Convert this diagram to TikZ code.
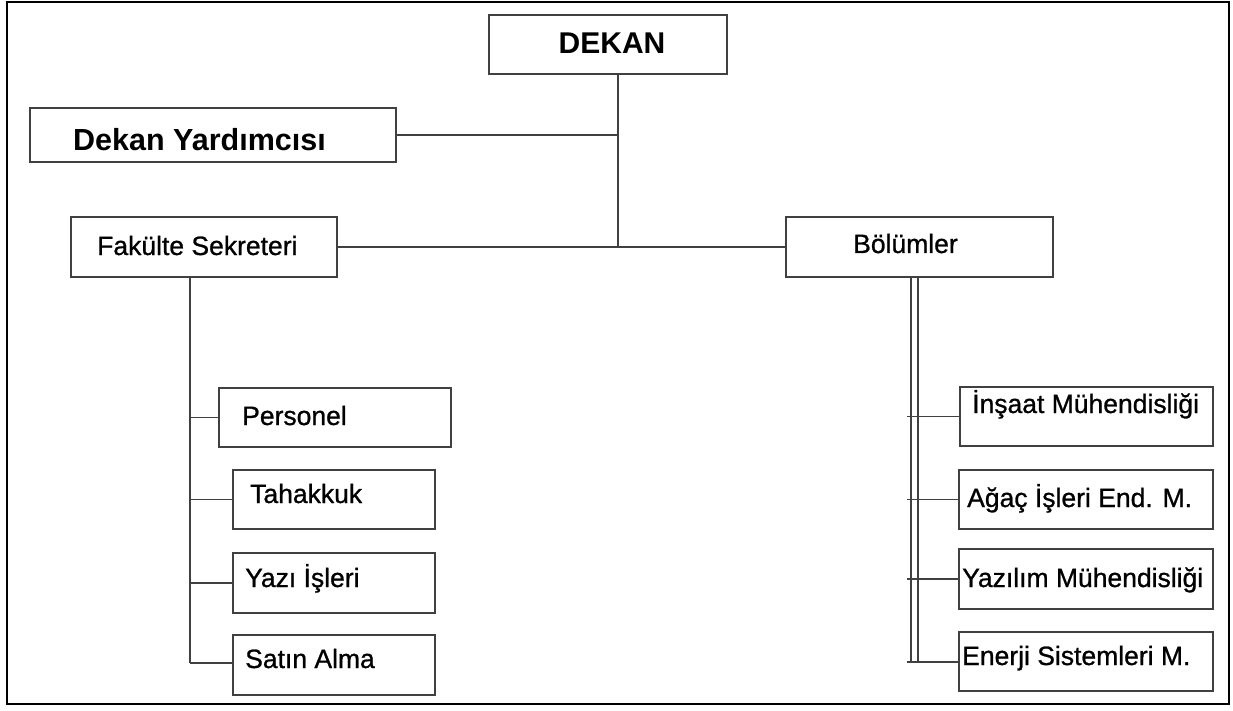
\documentclass[tikz,border=0pt]{standalone}
\usepackage{fontspec}
\setmainfont{Liberation Sans}
\newfontfamily\heavyfont[FakeBold=0.9]{Liberation Sans}
\begin{document}
\begin{tikzpicture}[x=1pt,y=-1pt,
  box/.style={draw=black!75,line width=1.8pt,inner sep=0pt,outer sep=0pt},
  txt/.style={anchor=base west,inner sep=0pt,font=\heavyfont\fontsize{26.5}{30}\selectfont},
  bigtxt/.style={anchor=base,inner sep=0pt,font=\fontsize{30}{34}\selectfont\bfseries},
  link/.style={draw=black!75,line width=1.5pt}]
\useasboundingbox (0,0) rectangle (1233,711);
\draw[line width=2.6pt] (7,2) rectangle (1229,704);
% boxes
\node[box,minimum width=238pt,minimum height=59pt] (dekan) at (608,44.5) {};
\node[box,minimum width=366pt,minimum height=54pt] (dy) at (213,135) {};
\node[box,minimum width=266pt,minimum height=60pt] (fs) at (204,247) {};
\node[box,minimum width=267pt,minimum height=60pt] (bol) at (919.5,247) {};
\node[box,minimum width=232pt,minimum height=59pt] (per) at (335,417.5) {};
\node[box,minimum width=202pt,minimum height=59pt] (tah) at (334,499.5) {};
\node[box,minimum width=202pt,minimum height=60pt] (yaz) at (334,583) {};
\node[box,minimum width=202pt,minimum height=60pt] (sat) at (334,665) {};
\node[box,minimum width=253pt,minimum height=59pt] (ins) at (1086.5,416.5) {};
\node[box,minimum width=254pt,minimum height=59pt] (aga) at (1086,499.5) {};
\node[box,minimum width=254pt,minimum height=60pt] (yzm) at (1086,579) {};
\node[box,minimum width=254pt,minimum height=59pt] (ene) at (1086,661.5) {};
% texts
\node[bigtxt] (tdekan) at (612,54) {DEKAN};
\node[anchor=base west,inner sep=0pt,font=\fontsize{30.5}{34}\selectfont\bfseries] (tdy) at (73,151) {Dekan Yardımcısı};
\node[txt] (tfs) at (97,255) {Fakülte Sekreteri};
\node[txt] (tbol) at (853,253) {Bölümler};
\node[txt] (tper) at (242,425) {Personel};
\node[txt] (ttah) at (250,503) {Tahakkuk};
\node[txt] (tyaz) at (245,587) {Yazı İşleri};
\node[txt] (tsat) at (245,668) {Satın Alma};
\node[txt] (tins) at (972,413) {İnşaat Mühendisliği};
\node[txt] (taga) at (967,507) {Ağaç İşleri End. M.};
\node[txt] (tyzm) at (962,587) {Yazılım Mühendisliği};
\node[txt] (tene) at (962,665) {Enerji Sistemleri M.};
% junctions
\coordinate (j1) at (618,247);
\coordinate (lt) at (190,663);
\coordinate (ra) at (911,662);
\coordinate (rb) at (918,662);
\coordinate (rt) at (907,662);
% connectors
\draw[link] (dekan.south -| j1) -- (j1);
\draw[link] (dy.east) -- (dy.east -| j1);
\draw[link] (fs.east) -- (bol.west);
\draw[link] (fs.south -| lt) -- (lt);
\draw[link] (lt |- per.west) -- (per.west);
\draw[link] (lt |- tah.west) -- (tah.west);
\draw[link] (lt |- yaz.west) -- (yaz.west);
\draw[link] (lt) -- (lt -| sat.west);
\draw[link] (bol.south -| ra) -- (ra);
\draw[link] (bol.south -| rb) -- (rb);
\draw[link] (rt |- ins.west) -- (ins.west);
\draw[link] (rt |- aga.west) -- (aga.west);
\draw[link] (rt |- yzm.west) -- (yzm.west);
\draw[link] (rt) -- (rt -| ene.west);
\end{tikzpicture}
\end{document}
